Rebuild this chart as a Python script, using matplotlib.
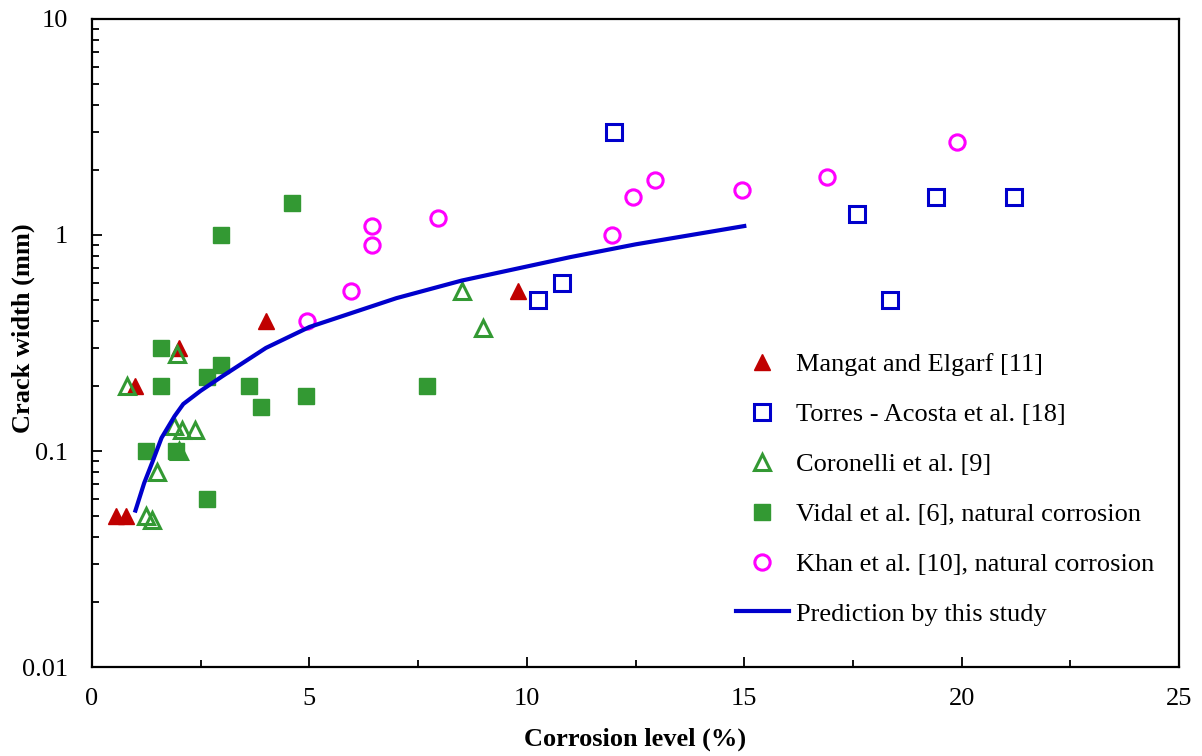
import numpy as np
import matplotlib
matplotlib.use("Agg")
import matplotlib.pyplot as plt
from matplotlib.ticker import FixedLocator, LogLocator, NullFormatter, MultipleLocator

# data (corrosion level %, crack width mm)
mangat_x = [0.55, 0.78, 1.0, 2.0, 4.0, 9.8]
mangat_y = [0.05, 0.05, 0.2, 0.3, 0.4, 0.55]

torres_x = [10.25, 10.8, 12.0, 17.6, 18.35, 19.4, 21.2]
torres_y = [0.5, 0.6, 3.0, 1.25, 0.5, 1.5, 1.5]

coronelli_x = [0.8, 1.25, 1.37, 1.5, 1.88, 1.95, 2.0, 2.08, 2.37, 8.5, 9.0]
coronelli_y = [0.2, 0.05, 0.048, 0.08, 0.13, 0.28, 0.1, 0.125, 0.125, 0.55, 0.37]

vidal_x = [1.25, 1.58, 1.58, 1.93, 2.65, 2.65, 2.97, 2.97, 3.62, 3.88, 4.6, 4.93, 7.7]
vidal_y = [0.1, 0.3, 0.2, 0.1, 0.22, 0.06, 1.0, 0.25, 0.2, 0.16, 1.4, 0.18, 0.2]

khan_x = [4.95, 5.95, 6.45, 6.45, 7.95, 11.95, 12.45, 12.95, 14.95, 16.9, 19.9]
khan_y = [0.4, 0.55, 1.1, 0.9, 1.2, 1.0, 1.5, 1.8, 1.62, 1.85, 2.7]

pred_x = [1.0, 1.2, 1.4, 1.6, 1.9, 2.1, 2.5, 3.0, 4.0, 5.0, 7.0, 8.5, 11.0, 12.5, 15.0]
pred_y = [0.053, 0.071, 0.09, 0.115, 0.145, 0.165, 0.19, 0.222, 0.3, 0.375, 0.51, 0.615, 0.79, 0.905, 1.1]

plt.rcParams["font.family"] = ["Liberation Serif", "DejaVu Serif"]

fig = plt.figure(figsize=(12.02, 7.56), dpi=100)
ax = fig.add_axes([0.0765, 0.1177, 0.9045, 0.8572])

ms = 12
ax.plot(mangat_x, mangat_y, ls="none", marker="^", ms=ms, color="#C00000",
        mec="#C00000", label="Mangat and Elgarf [11]")
ax.plot(torres_x, torres_y, ls="none", marker="s", ms=ms - 1, mfc="none",
        mec="#0000CC", mew=2.2, label="Torres - Acosta et al. [18]")
ax.plot(coronelli_x, coronelli_y, ls="none", marker="^", ms=ms, mfc="none",
        mec="#339933", mew=2.2, label="Coronelli et al. [9]")
ax.plot(vidal_x, vidal_y, ls="none", marker="s", ms=ms, color="#339933",
        mec="#339933", label="Vidal et al. [6], natural corrosion")
ax.plot(khan_x, khan_y, ls="none", marker="o", ms=ms - 1, mfc="none",
        mec="#FF00FF", mew=2.2, label="Khan et al. [10], natural corrosion")
ax.plot(pred_x, pred_y, color="#0000CC", lw=3, label="Prediction by this study")

ax.set_yscale("log")
ax.set_xlim(0, 25)
ax.set_ylim(0.01, 10)
ax.xaxis.set_major_locator(MultipleLocator(5))
ax.xaxis.set_minor_locator(MultipleLocator(2.5))
ax.yaxis.set_major_locator(FixedLocator([0.01, 0.1, 1, 10]))
ax.yaxis.set_minor_locator(LogLocator(base=10, subs=np.arange(2, 10)))
ax.yaxis.set_minor_formatter(NullFormatter())
ax.set_yticklabels(["0.01", "0.1", "1", "10"])

ax.tick_params(which="both", direction="in", labelsize=19, width=1.3)
ax.tick_params(which="major", length=7)
ax.tick_params(which="minor", length=5)
ax.tick_params(axis="x", which="major", pad=15)
ax.tick_params(axis="y", which="major", pad=17)
for s in ax.spines.values():
    s.set_linewidth(1.6)

ax.set_xlabel("Corrosion level (%)", fontsize=19, fontweight="bold", labelpad=13)
ax.set_ylabel("Crack width (mm)", fontsize=19, fontweight="bold")
ax.yaxis.set_label_coords(-0.052, 0.523)

ax.legend(loc="upper left", bbox_to_anchor=(0.580, 0.505), frameon=False,
          fontsize=19, borderpad=0, labelspacing=1.0, handlelength=2.0,
          handletextpad=0.3, numpoints=1)

fig.savefig("out.png", dpi=100)
